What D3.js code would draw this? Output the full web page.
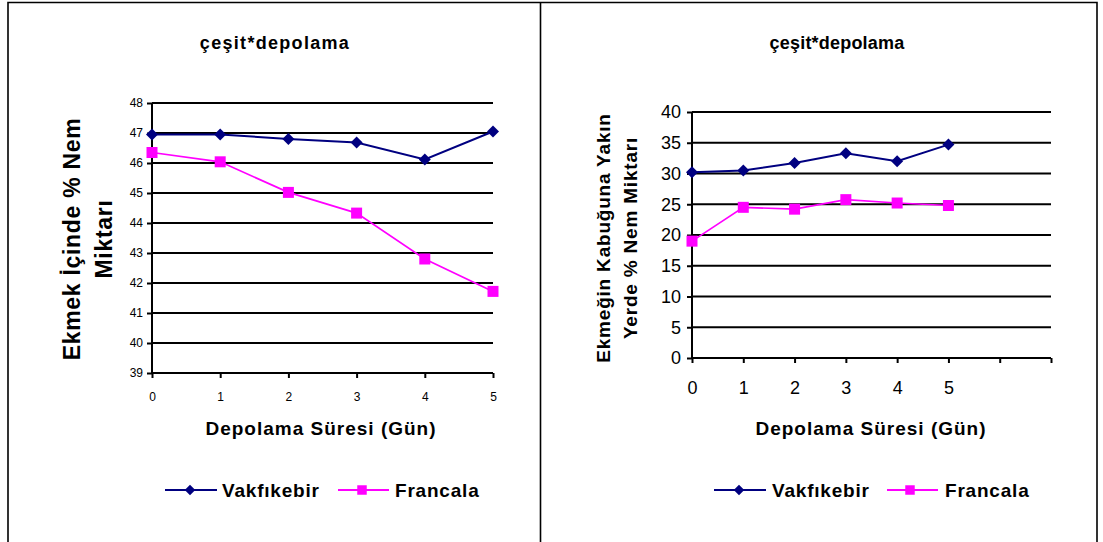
<!DOCTYPE html>
<html>
<head>
<meta charset="utf-8">
<script src="https://cdn.jsdelivr.net/npm/d3@7"></script>
<style>
  html, body { margin: 0; padding: 0; background: #fff; }
  svg { display: block; font-family: "Liberation Sans", Arial, sans-serif; }
</style>
</head>
<body>
<svg id="chart" width="1103" height="542"></svg>
<script>
// Storage days
const days = [0, 1, 2, 3, 4, 5];
const seriesNames = ["Vakfıkebir", "Francala"];

// Moisture inside the bread crumb (%)
const insideVakfikebir = [46.95, 46.95, 46.8, 46.68, 46.12, 47.05];
const insideFrancala   = [46.35, 46.04, 45.02, 44.33, 42.8, 41.72];

// Moisture near the crust (%)
const crustVakfikebir = [30.2, 30.5, 31.7, 33.3, 32.0, 34.7];
const crustFrancala   = [19.0, 24.5, 24.2, 25.75, 25.2, 24.8];

// Tick values
const insideYTicks = [39, 40, 41, 42, 43, 44, 45, 46, 47, 48];
const crustYTicks  = [0, 5, 10, 15, 20, 25, 30, 35, 40];
const insideXTicks = [0, 1, 2, 3, 4, 5];
const crustXTicks  = [0, 1, 2, 3, 4, 5, 6, 7];
const crustXLabels = ["0", "1", "2", "3", "4", "5", "", ""];

const chartTitle = "çeşit*depolama";
const xTitle = "Depolama Süresi (Gün)";
const insideYTitle = ["Ekmek İçinde % Nem", "Miktarı"];
const crustYTitle  = ["Ekmeğin Kabuğuna Yakın", "Yerde % Nem Miktarı"];

const colors = ["#000080", "#FF00FF"];

const svg = d3.select("#chart");

// Panel frames
svg.append("path")
  .attr("d", "M8,542 V2.5 H1097 V542 M540.5,2.5 V542")
  .attr("fill", "none").attr("stroke", "#000").attr("stroke-width", 1.6);

// Marker shapes: a square turned 45° for the diamond, a plain square
function marker(si, size) {
  const sym = d3.symbol().type(d3.symbolSquare).size(size)();
  return { d: sym, rot: si === 0 ? 45 : 0 };
}

function drawPanel(cfg) {
  const g = svg.append("g");
  const x = d3.scaleLinear().domain(cfg.xDomain).range(cfg.xRange);
  const y = d3.scaleLinear().domain(cfg.yDomain).range(cfg.yRange);

  // Horizontal gridlines
  g.append("g").selectAll("line")
    .data(cfg.yTicks.filter(v => v !== cfg.yDomain[0]))
    .join("line")
    .attr("x1", cfg.xRange[0]).attr("x2", cfg.xRange[1])
    .attr("y1", d => y(d)).attr("y2", d => y(d))
    .attr("stroke", "#000").attr("stroke-width", 2);

  // Y axis
  const ya = g.append("g")
    .attr("transform", `translate(${cfg.xRange[0]},0)`)
    .call(d3.axisLeft(y).tickValues(cfg.yTicks).tickSize(5).tickPadding(cfg.yPad).tickFormat(d3.format("d")));
  ya.select(".domain").attr("stroke", "#000").attr("stroke-width", 2).attr("d", `M0,${cfg.yRange[0]}V${cfg.yRange[1]}`);
  ya.selectAll(".tick line").attr("stroke", "#000").attr("stroke-width", 2);
  ya.selectAll(".tick text")
    .attr("font-family", "Liberation Sans, Arial, sans-serif")
    .attr("font-size", cfg.tickFont).attr("fill", "#000");

  // X axis
  const xa = g.append("g")
    .attr("transform", `translate(0,${cfg.yRange[0]})`)
    .call(d3.axisBottom(x).tickValues(cfg.xTicks).tickSize(5).tickPadding(cfg.xPad)
      .tickFormat((d, i) => cfg.xLabels[i]));
  xa.select(".domain").attr("stroke", "#000").attr("stroke-width", 2).attr("d", `M${cfg.xRange[0]},0H${cfg.xRange[1]}`);
  xa.selectAll(".tick line").attr("stroke", "#000").attr("stroke-width", 2);
  xa.selectAll(".tick text")
    .attr("font-family", "Liberation Sans, Arial, sans-serif")
    .attr("font-size", cfg.tickFont).attr("fill", "#000");

  // Series lines and markers
  cfg.series.forEach((vals, si) => {
    const line = d3.line().x((d, i) => x(days[i])).y(d => y(d));
    g.append("path").datum(vals)
      .attr("d", line).attr("fill", "none")
      .attr("stroke", colors[si]).attr("stroke-width", si === 0 ? 2 : 1.7);
    const m = marker(si, si === 0 ? 72 : 121);
    g.append("g").selectAll("path")
      .data(vals).join("path")
      .attr("transform", (d, i) => `translate(${x(days[i])},${y(d)}) rotate(${m.rot})`)
      .attr("d", m.d)
      .attr("fill", colors[si]);
  });

  // Title
  g.append("text")
    .attr("x", cfg.titleX).attr("y", 49)
    .attr("text-anchor", "middle")
    .attr("font-weight", "bold").attr("font-size", 18)
    .attr("letter-spacing", cfg.titleSpacing)
    .text(chartTitle);

  // X title
  g.append("text")
    .attr("x", cfg.xTitleX).attr("y", 435)
    .attr("text-anchor", "middle")
    .attr("font-weight", "bold").attr("font-size", 19)
    .attr("letter-spacing", 1)
    .text(xTitle);

  // Y title (two lines, rotated)
  cfg.yTitle.forEach((t, i) => {
    g.append("text")
      .attr("transform", `translate(${cfg.yTitleX[i]},${cfg.yTitleY}) rotate(-90)`)
      .attr("text-anchor", "middle").attr("dominant-baseline", "central")
      .attr("font-weight", "bold").attr("font-size", cfg.yTitleFont)
      .attr("letter-spacing", cfg.yTitleSpacing)
      .text(t);
  });

  // Legend
  const leg = g.append("g");
  cfg.legend.forEach((L, si) => {
    leg.append("line")
      .attr("x1", L.x1).attr("x2", L.x2).attr("y1", 490).attr("y2", 490)
      .attr("stroke", colors[si]).attr("stroke-width", 2);
    const m = marker(si, si === 0 ? 56 : 90);
    leg.append("path")
      .attr("transform", `translate(${L.m},490) rotate(${m.rot})`)
      .attr("d", m.d)
      .attr("fill", colors[si]);
    leg.append("text")
      .attr("x", L.tx).attr("y", 497)
      .attr("font-weight", "bold").attr("font-size", 19)
      .attr("letter-spacing", 0.8)
      .text(seriesNames[si]);
  });
}

drawPanel({
  xDomain: [0, 5], xRange: [152, 493],
  yDomain: [39, 48], yRange: [373, 103],
  yTicks: insideYTicks, xTicks: insideXTicks, xLabels: insideXTicks.map(String),
  tickFont: 12, yPad: 4, xPad: 14,
  series: [insideVakfikebir, insideFrancala],
  titleX: 275, titleSpacing: 1.3,
  xTitleX: 321,
  yTitle: insideYTitle, yTitleX: [72, 104], yTitleY: 239, yTitleFont: 23, yTitleSpacing: 0.7,
  legend: [{x1: 165, x2: 217, m: 190, tx: 222}, {x1: 338, x2: 389, m: 362, tx: 395}]
});

drawPanel({
  xDomain: [0, 7], xRange: [692, 1051],
  yDomain: [0, 40], yRange: [358, 112],
  yTicks: crustYTicks, xTicks: crustXTicks, xLabels: crustXLabels,
  tickFont: 18, yPad: 6, xPad: 18,
  series: [crustVakfikebir, crustFrancala],
  titleX: 837, titleSpacing: 0.2,
  xTitleX: 871,
  yTitle: crustYTitle, yTitleX: [603, 630], yTitleY: 238, yTitleFont: 19, yTitleSpacing: 0.8,
  legend: [{x1: 714, x2: 766, m: 739, tx: 772}, {x1: 887, x2: 938, m: 910, tx: 945}]
});
</script>
</body>
</html>
